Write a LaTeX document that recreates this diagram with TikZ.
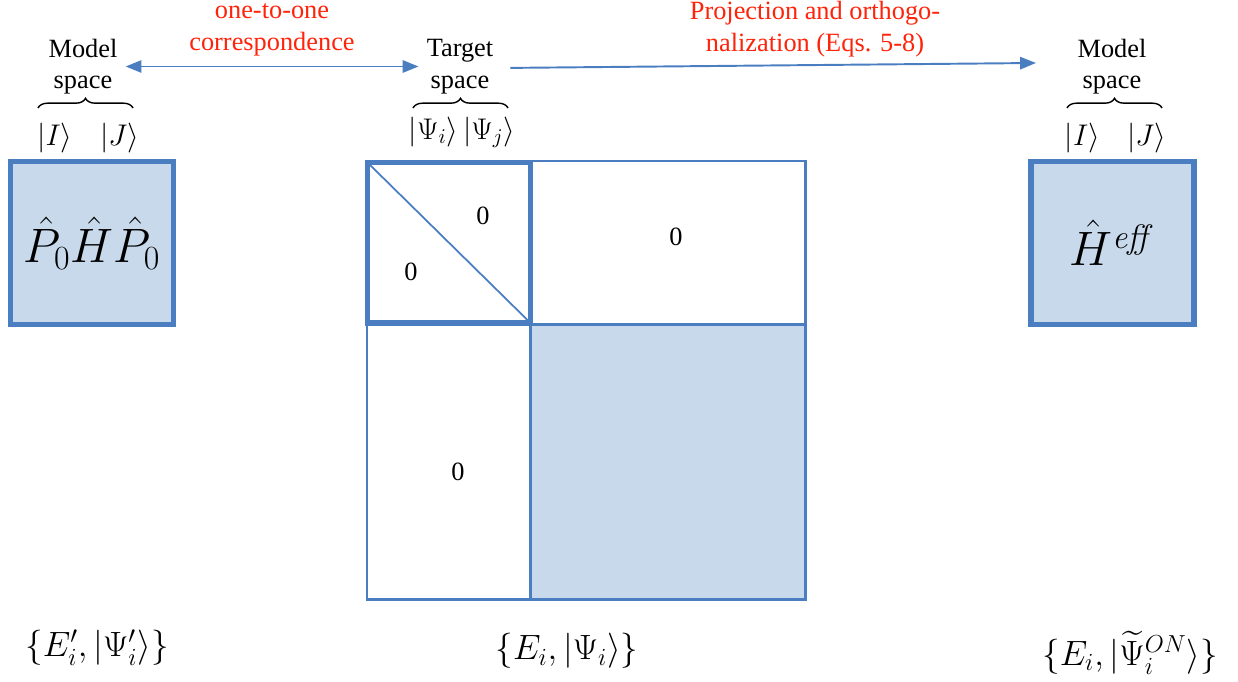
\documentclass[tikz,border=0pt]{standalone}
\usepackage{fix-cm}
\usepackage{amsmath}
\usepackage[no-math]{fontspec}
\setmainfont{Liberation Serif}
\usetikzlibrary{arrows.meta, positioning, decorations.pathreplacing}
\definecolor{BoxBlue}{RGB}{74,126,193}
\definecolor{BoxFill}{RGB}{199,217,234}
\definecolor{NoteRed}{RGB}{255,35,10}

\begin{document}
\begin{tikzpicture}[
  x = 0.02cm, y = -0.02cm,
  font         = \rmfamily\fontsize{15}{18}\selectfont,
  % pixel grid of the original figure, y running downwards
  space/.style = {align=center, inner sep=0pt},
  note/.style  = {align=center, inner sep=0pt, text=NoteRed},
  ket/.style   = {inner sep=0pt, font=\fontsize{17}{20}\selectfont},
  hbox/.style  = {draw=BoxBlue, line width=3pt, fill=BoxFill, inner sep=0pt,
                  minimum width=3.26cm, minimum height=3.27cm,
                  font=\fontsize{27.5}{30}\selectfont},
  cell/.style  = {draw=BoxBlue, line width=1.3pt, inner sep=0pt, outer sep=0pt},
  zero/.style  = {inner sep=0pt},
  spec/.style  = {inner sep=0pt, font=\fontsize{20}{24}\selectfont},
  arr/.style   = {line width=1.1pt, color=BoxBlue,
                  -{Triangle[length=9pt, width=7pt]}},
  brc/.style   = {decorate, decoration={brace, amplitude=5.5pt}, line width=0.8pt},
]
\useasboundingbox (0,0) rectangle (1238,682);

% ── Space labels ───────────────────────────────────────────────────────────────
\node[space] (lms) at (83, 66.5)   {Model\\space};
\node[space] (tgt) at (460, 66.5)  {Target\\space};
\node[space] (rms) at (1112, 66.5) {Model\\space};

\node[note] (corr) at (272, 30) {one-to-one\\correspondence};
\node[note] (proj) at (815, 29) {Projection and orthogo-\\nalization (Eqs. 5-8)};

% ── Kets and braces ────────────────────────────────────────────────────────────
\node[ket] (kIl) at (55, 138.5)    {$|I\rangle$};
\node[ket] (kJl) at (119.5, 138.5) {$|J\rangle$};
\node[ket] (kPs) at (462, 132.5)   {$|\Psi_i\rangle\,|\Psi_j\rangle$};
\node[ket] (kIr) at (1082.5, 138.5) {$|I\rangle$};
\node[ket] (kJr) at (1146.5, 138.5) {$|J\rangle$};

\draw[brc] (38,108)   -- (133,108);
\draw[brc] (413,108)  -- (508,108);
\draw[brc] (1067,108) -- (1162,108);

% ── Model-space blocks ─────────────────────────────────────────────────────────
\node[hbox] (pham) at (92, 243)     {$\hat{P}_0\hat{H}\hat{P}_0$};
\node[hbox] (heff) at (1112.5, 243) {$\hat{H}^{\mathit{eff}}$};

% ── Target-space matrix ────────────────────────────────────────────────────────
\node[cell, minimum width=5.5cm, minimum height=3.27cm]  (cB) at (668, 243) {};
\node[cell, minimum width=3.27cm, minimum height=5.5cm]  (cC) at (448.75, 462) {};
\node[cell, fill=BoxFill, minimum width=5.5cm, minimum height=5.5cm] (cD) at (668, 462) {};
\node[cell, line width=3pt, minimum width=3.26cm, minimum height=3.21cm] (cA) at (449, 242.75) {};
\draw[BoxBlue, line width=1pt] (cA.north west) -- (cA.south east);

\node[zero] (zA1) at (483, 216) {0};
\node[zero] (zA2) at (411, 272) {0};
\node[zero] (zB)  at (676, 237) {0};
\node[zero] (zC)  at (458, 472) {0};

% ── Arrows ─────────────────────────────────────────────────────────────────────
\draw[arr, {Triangle[length=9pt, width=7pt]}-{Triangle[length=9pt, width=7pt]},
      shorten <=4.5pt, shorten >=4.5pt] (lms.east) -- (tgt.west);
\draw[arr] ([xshift=9.5pt, yshift=-0.8pt]tgt.east) -- ([xshift=-23.5pt, yshift=2pt]rms.west);

% ── Eigen-pairs ────────────────────────────────────────────────────────────────
\node[spec] (sL) at (97, 648)   {$\{E'_i,|\Psi'_i\rangle\}$};
\node[spec] (sT) at (567, 651)  {$\{E_i,|\Psi_i\rangle\}$};
\node[spec] (sR) at (1130, 653) {$\{E_i,|\widetilde{\Psi}_i^{ON}\rangle\}$};

\end{tikzpicture}
\end{document}
